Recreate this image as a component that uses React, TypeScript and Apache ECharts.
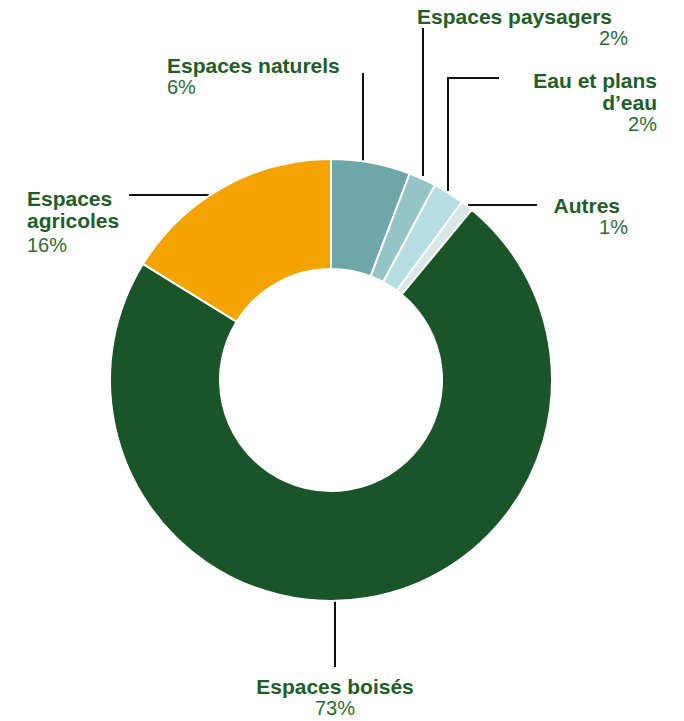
import React, { useEffect, useRef } from 'react';
import * as echarts from 'echarts';

const categories = ['Espaces naturels', 'Espaces paysagers', "Eau et plans d'eau", 'Autres', 'Espaces boisés', 'Espaces agricoles'];
const values = [5.8, 2.0, 2.3, 0.9, 72.8, 16.2];
const percentLabels = ['6%', '2%', '2%', '1%', '73%', '16%'];
const nameLines = [['Espaces naturels'], ['Espaces paysagers'], ['Eau et plans', 'd’eau'], ['Autres'], ['Espaces boisés'], ['Espaces', 'agricoles']];
const colors = ['#6ea7a9', '#93c5c6', '#b6dee2', '#d9e8e6', '#1a5429', '#f5a300'];

// label placement (layout only)
const placement: any[] = [
  { x: 167, y: 54, align: 'left', nameStyle: 'n', valueStyle: 'v', line: [[363, 161], [363, 73], [363, 73]] },
  { x: 628, y: 5, align: 'right', nameStyle: 'n16', valueStyle: 'v', line: [[423, 176], [423, 28], [423, 28]] },
  { x: 657, y: 69, align: 'right', nameStyle: 'n', valueStyle: 'v', line: [[448, 191], [448, 78], [499, 78]] },
  { x: 628, y: 194, align: 'right', nameStyle: 'n8', valueStyle: 'v', line: [[468, 205], [537, 205], [537, 205]] },
  { x: 335, y: 675, align: 'center', nameStyle: 'n', valueStyle: 'v', line: [[335, 601], [335, 667], [335, 667]] },
  { x: 27, y: 187, align: 'left', nameStyle: 'n', valueStyle: 'v28', line: [[209, 195], [129, 195], [129, 195]] },
];

const FONT = '"Liberation Sans", Arial, sans-serif';
const NAME_COLOR = '#1e5e28';
const VALUE_COLOR = '#2c6c35';

export default function App() {
  const ref = useRef<HTMLDivElement>(null);
  useEffect(() => {
    if (!ref.current) return;
    const chart = echarts.init(ref.current, undefined, { renderer: 'svg' });
    const data = categories.map((c, i) => ({
      name: c,
      value: values[i],
      itemStyle: { color: colors[i] },
    }));
    const nameBase = { fontFamily: FONT, fontSize: 21, fontWeight: 'bold', color: NAME_COLOR, lineHeight: 22 };
    const valueBase = { fontFamily: FONT, fontSize: 20, fontWeight: 'normal', color: VALUE_COLOR, lineHeight: 22 };
    chart.setOption({
      animation: false,
      backgroundColor: '#ffffff',
      series: [
        {
          type: 'pie',
          center: [331, 380],
          radius: [111, 221],
          startAngle: 90,
          clockwise: true,
          avoidLabelOverlap: false,
          itemStyle: { borderColor: '#ffffff', borderWidth: 2 },
          label: {
            show: true,
            position: 'outside',
            formatter: (p: any) => {
              const pl = placement[p.dataIndex];
              const lines = nameLines[p.dataIndex].map((l) => `{${pl.nameStyle}|${l}}`);
              return lines.join('\n') + `\n{${pl.valueStyle}|${percentLabels[p.dataIndex]}}`;
            },
            rich: {
              n: { ...nameBase },
              n16: { ...nameBase, padding: [0, 16, 0, 0] },
              n8: { ...nameBase, padding: [0, 8, 0, 0] },
              v: { ...valueBase },
              v28: { ...valueBase, lineHeight: 28 },
            },
          },
          labelLine: {
            show: true,
            length: 10,
            length2: 10,
            lineStyle: { color: '#111111', width: 2 },
          },
          labelLayout: (params: any) => {
            const pl = placement[params.dataIndex];
            return {
              x: pl.x,
              y: pl.y,
              align: pl.align,
              verticalAlign: 'top',
              labelLinePoints: pl.line,
            };
          },
          data,
        },
      ],
    });
    return () => chart.dispose();
  }, []);
  return (
    <div
      ref={ref}
      style={{ position: 'fixed', left: 0, top: 0, width: 684, height: 721, background: '#fff' }}
    />
  );
}
